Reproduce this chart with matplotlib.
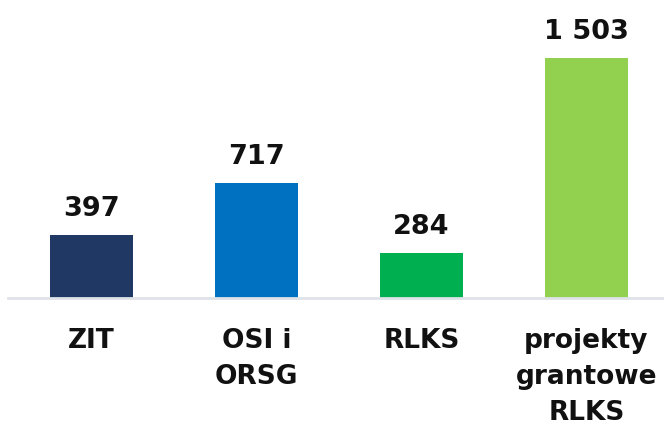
import matplotlib.pyplot as plt

categories = ["ZIT", "OSI i\nORSG", "RLKS", "projekty\ngrantowe\nRLKS"]
values = [397, 717, 284, 1503]
colors = ["#203864", "#0070c0", "#00b050", "#92d050"]

plt.rcParams['font.family'] = ['DejaVu Sans']

fig = plt.figure(figsize=(6.64, 4.31), dpi=100)
ax = fig.add_axes([8 / 664, (431 - 299) / 431, 656 / 664, 299 / 431])

x = range(len(categories))
bars = ax.bar(x, values, width=0.503, color=colors, zorder=2)

for b, v in zip(bars, values):
    ax.annotate(f"{v:,}".replace(",", " "), (b.get_x() + b.get_width() / 2, v),
                xytext=(0, 10), textcoords="offset points", ha="center", va="bottom",
                fontsize=19.5, fontweight="bold", color="#111111")

ax.set_xlim(-0.506, 3.47)
ax.set_ylim(0, 1870)
ax.set_xticks(list(x))
ax.set_xticklabels(categories, fontsize=19, fontweight="bold", color="#111111",
                   linespacing=1.5)
ax.tick_params(axis="x", length=0, pad=21)
ax.set_yticks([])
for s in ["top", "left", "right"]:
    ax.spines[s].set_visible(False)
ax.spines["bottom"].set_color("#dfe3e8")
ax.spines["bottom"].set_linewidth(2)

fig.savefig("out.png", dpi=100)
